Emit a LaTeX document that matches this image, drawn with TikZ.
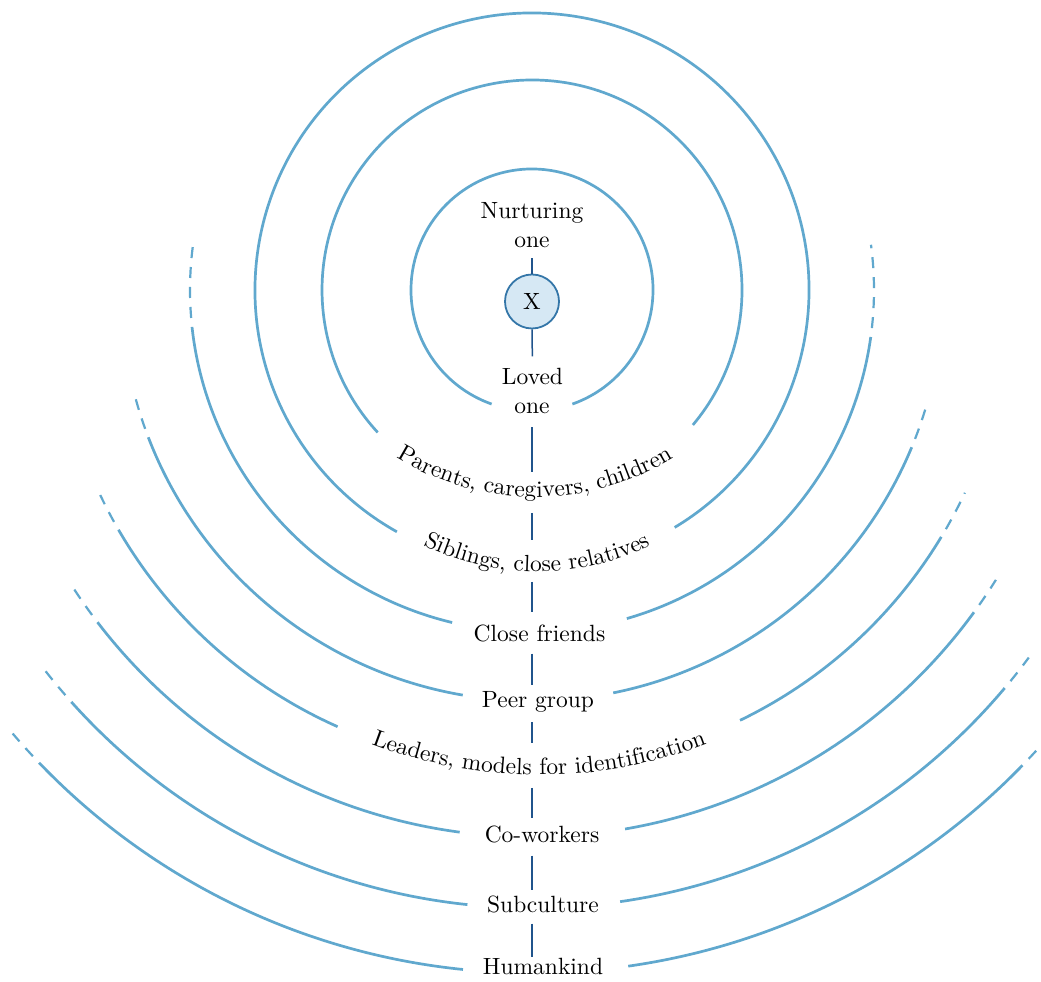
\documentclass[tikz,border=0pt]{standalone}
\usepackage{fontspec}
\setmainfont{lmroman10-regular.otf}
\usetikzlibrary{decorations.text}
\definecolor{ringblue}{RGB}{96,168,206}
\definecolor{axisblue}{RGB}{32,84,140}
\definecolor{xfill}{RGB}{214,232,244}
\definecolor{xedge}{RGB}{52,118,168}
\begin{document}
\begin{tikzpicture}[x=1pt,y=1pt,
  font=\fontsize{23.5}{28}\selectfont,
  ring/.style={ringblue, line width=2.7pt},
  ringfade/.style={ringblue, line width=2.2pt, dash pattern=on 11pt off 9pt, dash phase=11pt},
  axisline/.style={axisblue, line width=1.5pt},
  ringtext/.style={inner sep=0pt, anchor=base, text=black},
  curved/.style={decorate, decoration={text along path, text align=center,
      text={|\fontsize{23.5}{28}\selectfont|#1}}},
]
\fill[white] (0,0) rectangle (1041,982);
\useasboundingbox (0,0) rectangle (1041,982);

% common centre of the rings
\coordinate (C) at (532,692);

% three closed rings, open only at the bottom
\draw[ring] ([shift={(289.5:121)}]C) arc[start angle=289.5, end angle=610.5, radius=121];
\draw[ring] ([shift={(320:210)}]C) arc[start angle=320, end angle=582.7, radius=210];
\draw[ring] ([shift={(301:277)}]C) arc[start angle=301, end angle=600.8, radius=277];

% outer rings: solid lower part, dashed ends fading out
\foreach \R/\GL/\GR/\SL/\SR/\EL/\ER in {
    342/13.5/16.1/6.2/7.9/-7.9/-7.6,
    411/9.7/11.4/21/22.5/15.2/16.2,
    478/24/25.8/30.1/31.1/25.4/25.1,
    547/7.6/9.8/37.4/36.1/32.4/32,
    618/6.0/8.2/41.8/40.1/37.7/36.5,
    683/5.8/8.1/43.8/44.1/40.5/40.9}{
  \draw[ring] ([shift={(270+\GR:\R)}]C) arc[start angle=270+\GR, end angle=360-\SR, radius=\R];
  \draw[ringfade] ([shift={(360-\SR:\R)}]C) arc[start angle=360-\SR, end angle=360-(\ER), radius=\R];
  \draw[ring] ([shift={(270-\GL:\R)}]C) arc[start angle=270-\GL, end angle=180+\SL, radius=\R];
  \draw[ringfade] ([shift={(180+\SL:\R)}]C) arc[start angle=180+\SL, end angle=180+(\EL), radius=\R];
}

% labels
\node[ringtext] (nurtA) at (532,763) {Nurturing};
\node[ringtext] (nurtB) at (532,734) {one};
\node[circle, draw=xedge, fill=xfill, line width=1.8pt, minimum size=54pt, inner sep=0pt] (X) at (532,680.5) {X};
\node[ringtext] (lovedA) at (532.5,597) {Loved};
\node[ringtext] (lovedB) at (532,568) {one};
\coordinate (parents) at (532,485);
\coordinate (siblings) at (532,410);
\node[ringtext] (close) at (539.5,340) {Close friends};
\node[ringtext] (peer) at (538,274) {Peer group};
\coordinate (leaders) at (532,207);
\node[ringtext] (cowork) at (542,139) {Co-workers};
\node[ringtext] (subcult) at (543,69) {Subculture};
\node[ringtext] (human) at (543,7) {Humankind};

% curved labels
\coordinate (parentsC) at (535,748);
\coordinate (siblingsC) at (537,665);
\coordinate (leadersC) at (539,677);
\path[curved={Parents, caregivers, children}]
  ([shift={(225:263)}]parentsC) arc[start angle=225, end angle=315, radius=263];
\path[curved={Siblings, close relatives}]
  ([shift={(225:255)}]siblingsC) arc[start angle=225, end angle=315, radius=255];
\path[curved={Leaders, models for identification}]
  ([shift={(235:470)}]leadersC) arc[start angle=235, end angle=305, radius=470];

% the axis through all the circles
\draw[axisline, shorten <=10pt] (nurtB.south) -- (X.north);
\draw[axisline, shorten >=12pt] (X.south) -- (lovedA.north);
\draw[axisline, shorten <=13pt, shorten >=25pt] (lovedB.south) -- (parents);
\draw[axisline, shorten <=16pt, shorten >=32pt] (parents) -- (siblings);
\draw[axisline, shorten <=10pt, shorten >=13pt] (siblings) -- (close.north -| X.center);
\draw[axisline, shorten <=11pt, shorten >=7pt] (close.south -| X.center) -- (peer.north -| X.center);
\draw[axisline, shorten <=9.4pt, shorten >=32pt] (peer.south -| X.center) -- (leaders);
\draw[axisline, shorten <=13pt, shorten >=8.7pt] (leaders) -- (cowork.north -| X.center);
\draw[axisline, shorten <=12pt, shorten >=6.7pt] (cowork.south -| X.center) -- (subcult.north -| X.center);
\draw[axisline, shorten <=10pt, shorten >=1.7pt] (subcult.south -| X.center) -- (human.north -| X.center);
\end{tikzpicture}
\end{document}
